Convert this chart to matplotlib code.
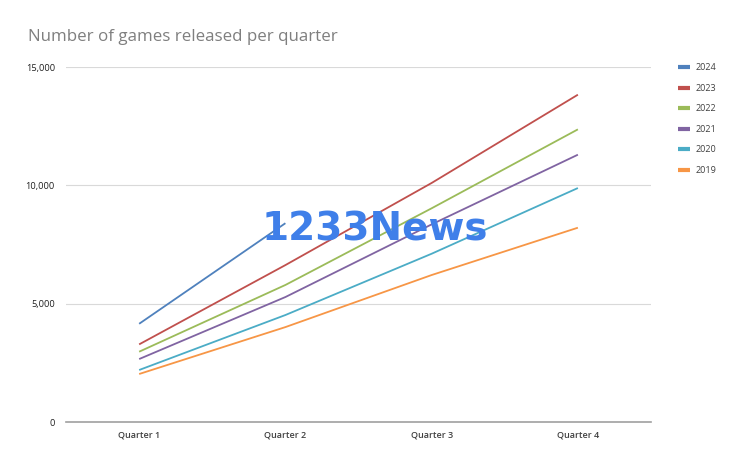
import matplotlib
matplotlib.use("Agg")
import matplotlib.pyplot as plt
from matplotlib.ticker import FuncFormatter

quarters = ["Quarter 1", "Quarter 2", "Quarter 3", "Quarter 4"]
years = ["2024", "2023", "2022", "2021", "2020", "2019"]
v2024 = [4150, 8400]
v2023 = [3280, 6630, 10100, 13830]
v2022 = [2970, 5790, 9030, 12365]
v2021 = [2660, 5280, 8350, 11295]
v2020 = [2197, 4520, 7110, 9886]
v2019 = [2028, 4010, 6210, 8210]
series = [v2024, v2023, v2022, v2021, v2020, v2019]
colors = ["#4f81bd", "#c0504d", "#9bbb59", "#8064a2", "#4bacc6", "#f79646"]

plt.rcParams['font.family'] = ['Open Sans', 'DejaVu Sans']

fig = plt.figure(figsize=(7.47, 4.58), dpi=100)
ax = fig.add_axes([0.0884, 0.0786, 0.7831, 0.7751])

xs = list(range(len(quarters)))
handles = []
for name, vals, c in zip(years, series, colors):
    h, = ax.plot(xs[:len(vals)], vals, color=c, lw=1.3, label=name, solid_capstyle='butt')
    handles.append(h)

ax.set_xlim(-0.5, 3.5)
ax.set_ylim(0, 15000)
ax.set_yticks([0, 5000, 10000, 15000])
ax.yaxis.set_major_formatter(FuncFormatter(lambda v, p: f"{int(v):,}"))
ax.set_xticks(xs)
ax.set_xticklabels(quarters, fontsize=6.5, fontweight='semibold', color='#404040')
for t in ax.get_yticklabels():
    t.set_fontsize(6.7)
    t.set_color('#202020')
ax.tick_params(axis='both', length=0, pad=6)
ax.tick_params(axis='y', pad=8)
ax.grid(axis='y', color='#d9d9d9', lw=0.8)
ax.set_axisbelow(True)
for s in ['top', 'right', 'left']:
    ax.spines[s].set_visible(False)
ax.spines['bottom'].set_color('#a0a0a0')
ax.spines['bottom'].set_linewidth(1.2)

fig.text(28/747, 1-37/458, "Number of games released per quarter", fontsize=12.2,
         color='#7f7f7f', va='center', ha='left')

leg = fig.legend(handles=handles, loc='upper left', bbox_to_anchor=(670/747, 1-55/458),
                 frameon=False, fontsize=6.5, handlelength=1.3, handletextpad=0.6,
                 labelspacing=1.28)
for t in leg.get_texts():
    t.set_color('#404040')
for l in leg.get_lines():
    l.set_linewidth(3)

fig.text(375/747, 1-230/458, "1233News", fontsize=28, fontweight='bold',
         color='#3f7fe9', ha='center', va='center', family='DejaVu Sans')

fig.savefig("out.png", dpi=100, facecolor='white')
